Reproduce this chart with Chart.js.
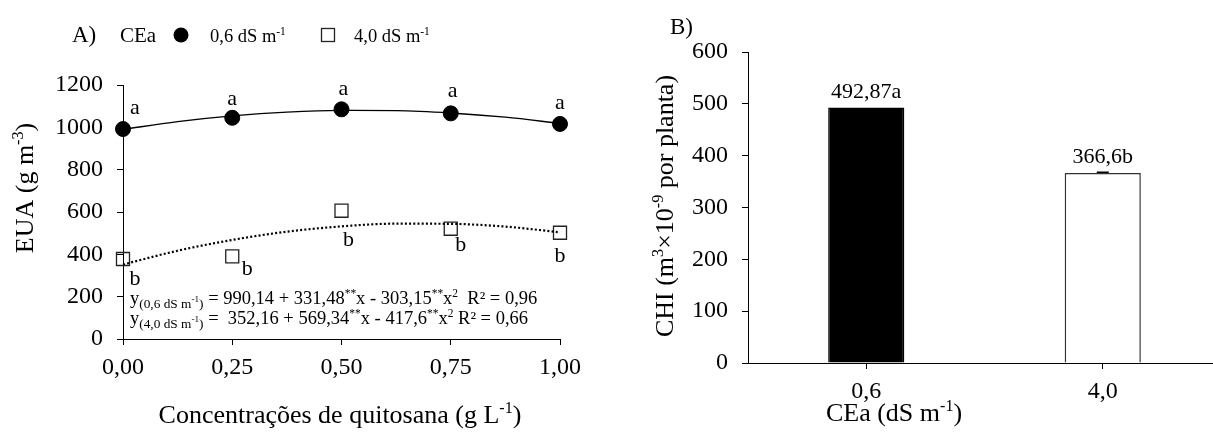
<!DOCTYPE html>
<html>
<head>
<meta charset="utf-8">
<script src="https://cdn.jsdelivr.net/npm/chart.js@4.4.1/dist/chart.umd.min.js"></script>
<style>
html, body { margin: 0; padding: 0; background: #fff; overflow: hidden; width: 1213px; height: 435px; }
#chartA { position: absolute; left: 0; top: 0; }
#chartB { position: absolute; left: 600px; top: 0; }
</style>
</head>
<body>
<canvas id="chartA" width="600" height="435"></canvas>
<canvas id="chartB" width="640" height="435"></canvas>
<script>
// ── données ──
const concentrations = [0, 0.25, 0.5, 0.75, 1];
const euaLow  = [992, 1045, 1085, 1066, 1016];   // 0,6 dS m-1
const euaHigh = [378, 390, 606, 521, 502];       // 4,0 dS m-1
const lettersLow  = ['a', 'a', 'a', 'a', 'a'];
const lettersHigh = ['b', 'b', 'b', 'b', 'b'];

const fitX    = [0, 0.125, 0.25, 0.375, 0.5, 0.625, 0.75, 0.875, 1];
const fitLow  = [990, 1027, 1054, 1072, 1080, 1079, 1068, 1048, 1019];
const fitHigh = [352, 417, 468, 507, 532, 545, 544, 531, 504];

const xTicksA = [0, 0.25, 0.5, 0.75, 1];

const chiCategories = ['0,6', '4,0'];
const chiValues = [492.87, 366.6];
const chiErrors = [0, 1.5];
const chiLabels = ['492,87a', '366,6b'];

// ── style ──
const FONT = '"Liberation Serif", "Times New Roman", serif';
const lowOffsets  = [[12, -15], [0, -13], [2, -14], [2, -16], [0, -15]];
const highOffsets = [[12, 26], [15, 19], [7, 35], [10, 22], [0, 29]];

const T = t => ({ t });
const SUP = t => ({ t, s: 0.62, dy: -0.38 });
const SUB = t => ({ t, s: 0.72, dy: 0.22 });
const SUBSUP = t => ({ t, s: 0.5, dy: -0.12 });

function drawRich(ctx, segs, x, y, size, align) {
    const widths = segs.map(s => { ctx.font = `${size * (s.s || 1)}px ${FONT}`; return ctx.measureText(s.t).width; });
    const total = widths.reduce((a, b) => a + b, 0);
    let cx = align === 'center' ? x - total / 2 : align === 'right' ? x - total : x;
    ctx.textAlign = 'left';
    ctx.textBaseline = 'alphabetic';
    segs.forEach((s, i) => {
        ctx.font = `${size * (s.s || 1)}px ${FONT}`;
        ctx.fillText(s.t, cx, y + (s.dy || 0) * size);
        cx += widths[i];
    });
}

function drawRotated(ctx, segs, x, y, size) {
    ctx.save();
    ctx.translate(x, y);
    ctx.rotate(-Math.PI / 2);
    drawRich(ctx, segs, 0, 0, size, 'center');
    ctx.restore();
}

const axisGrid = { display: true, drawOnChartArea: false, drawTicks: true, tickLength: 6, color: '#000', lineWidth: 1 };
const axisBorder = { display: true, color: '#000', width: 1 };
const tickFont = { family: FONT, size: 24 };
const TITLE = 26;

// ── Panneau A ──
const overlayA = {
    id: 'overlayA',
    afterDraw(chart) {
        const ctx = chart.ctx, xs = chart.scales.x, ys = chart.scales.y;
        ctx.save();
        ctx.fillStyle = '#000';
        // lettres
        ctx.font = `22px ${FONT}`;
        concentrations.forEach((c, i) => {
            ctx.textAlign = 'center'; ctx.textBaseline = 'alphabetic';
            ctx.fillText(lettersLow[i], xs.getPixelForValue(c) + lowOffsets[i][0], ys.getPixelForValue(euaLow[i]) + lowOffsets[i][1]);
            ctx.fillText(lettersHigh[i], xs.getPixelForValue(c) + highOffsets[i][0], ys.getPixelForValue(euaHigh[i]) + highOffsets[i][1]);
        });
        // équations
        drawRich(ctx, [T('y'), SUB('(0,6 dS m'), SUBSUP('-1'), SUB(')'), T(' = 990,14 + 331,48'), SUP('**'), T('x - 303,15'), SUP('**'), T('x'), SUP('2'), T('  R² = 0,96')], 130, 304, 18.5, 'left');
        drawRich(ctx, [T('y'), SUB('(4,0 dS m'), SUBSUP('-1'), SUB(')'), T(' =  352,16 + 569,34'), SUP('**'), T('x - 417,6'), SUP('**'), T('x'), SUP('2'), T(' R² = 0,66')], 130, 324, 18.5, 'left');
        // légende
        drawRich(ctx, [T('A)')], 72, 42, 23, 'left');
        drawRich(ctx, [T('CEa')], 120, 42, 21, 'left');
        ctx.beginPath(); ctx.arc(181, 35, 7.5, 0, Math.PI * 2); ctx.fill();
        drawRich(ctx, [T('0,6 dS m'), SUP('-1')], 210, 42, 18.5, 'left');
        ctx.strokeStyle = '#222'; ctx.lineWidth = 1.3;
        ctx.strokeRect(321.5, 28.5, 13, 13);
        drawRich(ctx, [T('4,0 dS m'), SUP('-1')], 354, 42, 18.5, 'left');
        // titres des axes
        drawRotated(ctx, [T('EUA (g m'), SUP('-3'), T(')')], 33, 188, TITLE);
        drawRich(ctx, [T('Concentrações de quitosana (g L'), SUP('-1'), T(')')], 340, 423, TITLE, 'center');
        ctx.restore();
    }
};

new Chart(document.getElementById('chartA'), {
    type: 'scatter',
    data: {
        datasets: [
            { data: fitX.map((x, i) => ({ x, y: fitLow[i] })), showLine: true, borderColor: '#000', borderWidth: 1.4, pointRadius: 0, cubicInterpolationMode: 'monotone', clip: false },
            { data: fitX.map((x, i) => ({ x, y: fitHigh[i] })), showLine: true, borderColor: '#000', borderWidth: 2.2, borderDash: [2, 2.2], pointRadius: 0, cubicInterpolationMode: 'monotone', clip: false },
            { data: concentrations.map((x, i) => ({ x, y: euaLow[i] })), showLine: false, pointStyle: 'circle', pointRadius: 7.5, backgroundColor: '#000', borderColor: '#000', borderWidth: 1, clip: false },
            { data: concentrations.map((x, i) => ({ x, y: euaHigh[i] })), showLine: false, pointStyle: 'rect', pointRadius: 9.2, backgroundColor: 'rgba(0,0,0,0)', borderColor: '#222', borderWidth: 1.3, clip: false }
        ]
    },
    options: {
        responsive: false,
        animation: false,
        layout: { padding: { top: 85, right: 40, left: 0, bottom: 0 } },
        plugins: { legend: { display: false }, tooltip: { enabled: false } },
        scales: {
            x: {
                type: 'linear', min: 0, max: 1,
                afterBuildTicks: s => { s.ticks = xTicksA.map(v => ({ value: v })); },
                afterFit: s => { s.height = 96; },
                grid: axisGrid, border: axisBorder,
                ticks: { color: '#000', font: tickFont, padding: 8, maxRotation: 0, callback: v => v.toFixed(2).replace('.', ',') }
            },
            y: {
                min: 0, max: 1200,
                afterFit: s => { s.width = 123; },
                grid: axisGrid, border: axisBorder,
                ticks: { color: '#000', font: tickFont, padding: 14, stepSize: 200, callback: v => String(v) }
            }
        }
    },
    plugins: [overlayA]
});

// ── Panneau B ──
const overlayB = {
    id: 'overlayB',
    afterDraw(chart) {
        const ctx = chart.ctx, ys = chart.scales.y;
        const meta = chart.getDatasetMeta(0);
        ctx.save();
        ctx.fillStyle = '#000';
        meta.data.forEach((bar, i) => {
            // barre d'erreur
            if (chiErrors[i] > 0) {
                const yTop = ys.getPixelForValue(chiValues[i] + chiErrors[i]);
                const yBase = ys.getPixelForValue(chiValues[i]);
                ctx.strokeStyle = '#000'; ctx.lineWidth = 1.5;
                ctx.beginPath();
                ctx.moveTo(bar.x, yBase); ctx.lineTo(bar.x, yTop);
                ctx.moveTo(bar.x - 6, yTop); ctx.lineTo(bar.x + 6, yTop);
                ctx.stroke();
            }
            drawRich(ctx, [T(chiLabels[i])], bar.x, bar.y - 10, 22, 'center');
        });
        drawRich(ctx, [T('B)')], 70, 34, 23, 'left');
        drawRotated(ctx, [T('CHI (m'), SUP('3'), T('×10'), SUP('-9'), T(' por planta)')], 73, 206, TITLE);
        drawRich(ctx, [T('CEa (dS m'), SUP('-1'), T(')')], 294, 421, TITLE, 'center');
        ctx.restore();
    }
};

new Chart(document.getElementById('chartB'), {
    type: 'bar',
    data: {
        labels: chiCategories,
        datasets: [{
            data: chiValues,
            backgroundColor: ['#000', '#fff'],
            borderColor: ['#000', '#333'],
            borderWidth: 1.5,
            borderSkipped: 'bottom',
            categoryPercentage: 1,
            barPercentage: 0.322
        }]
    },
    options: {
        responsive: false,
        animation: false,
        layout: { padding: { top: 52, right: 19, left: 0, bottom: 0 } },
        plugins: { legend: { display: false }, tooltip: { enabled: false } },
        scales: {
            x: {
                afterFit: s => { s.height = 72; },
                grid: { ...axisGrid, offset: false }, border: axisBorder,
                ticks: { color: '#000', font: tickFont, padding: 8, maxRotation: 0 }
            },
            y: {
                min: 0, max: 600,
                afterFit: s => { s.width = 148; },
                grid: axisGrid, border: axisBorder,
                ticks: { color: '#000', font: tickFont, padding: 14, stepSize: 100 }
            }
        }
    },
    plugins: [overlayB]
});
</script>
</body>
</html>
